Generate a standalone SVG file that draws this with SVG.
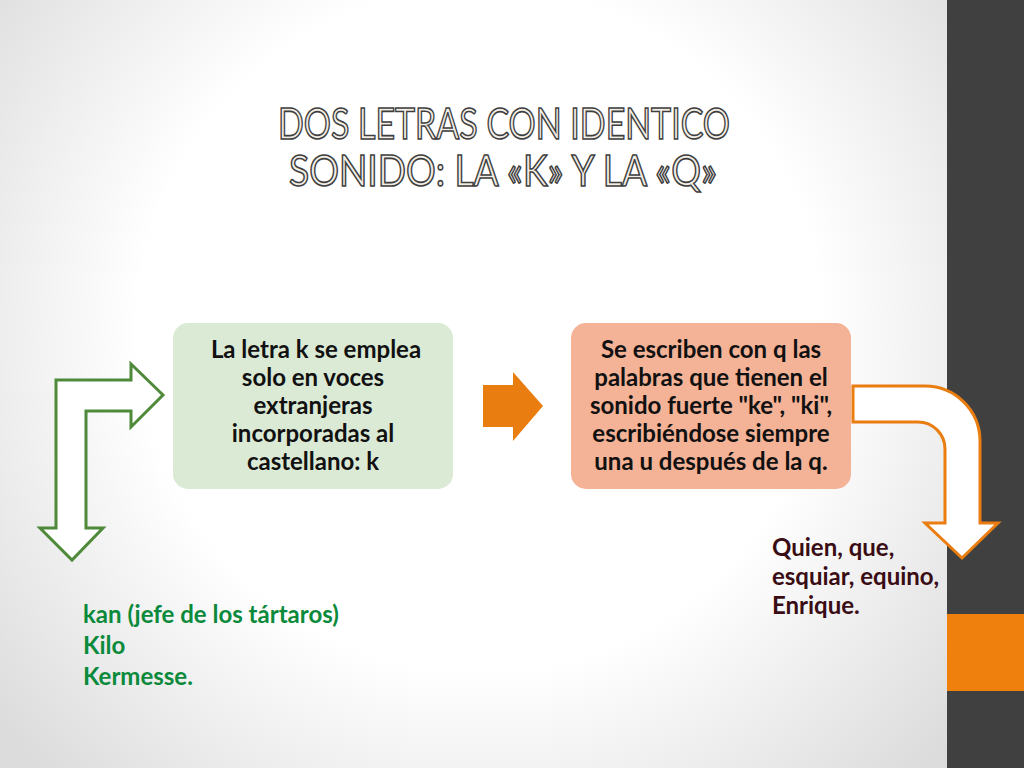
<svg xmlns="http://www.w3.org/2000/svg" width="1024" height="768" viewBox="0 0 1024 768">
<defs>
<radialGradient id="bg" cx="480" cy="330" r="620" gradientUnits="userSpaceOnUse">
<stop offset="0" stop-color="#ffffff"/>
<stop offset="0.55" stop-color="#ffffff"/>
<stop offset="1" stop-color="#dcdcdc"/>
</radialGradient>
</defs>
<style>
.title{font-family:Lato,"Liberation Sans",sans-serif;font-size:42px;fill:#f2eee6;stroke:#3f3f3f;stroke-width:1.6px;text-anchor:middle}
.box{font-family:Lato,"Liberation Sans",sans-serif;font-size:24px;font-weight:bold;fill:#111111;text-anchor:middle}
.gtxt{font-family:Lato,"Liberation Sans",sans-serif;font-size:24px;font-weight:bold;fill:#0b8a3c}
.rtxt{font-family:Lato,"Liberation Sans",sans-serif;font-size:24px;font-weight:bold;fill:#3a0d14}
</style>
<rect x="0" y="0" width="1024" height="768" fill="url(#bg)"/>
<rect x="947" y="0" width="77" height="768" fill="#404040"/>
<rect x="947" y="614" width="77" height="77" fill="#ef800d"/>

<g id="title">
<text class="title" x="504" y="139" textLength="452" lengthAdjust="spacingAndGlyphs">DOS LETRAS CON IDENTICO</text>
<text class="title" x="503" y="186" textLength="428" lengthAdjust="spacingAndGlyphs">SONIDO: LA «K» Y LA «Q»</text>
</g>

<g id="connectors">
<path d="M56,528 L56,380 L131,380 L131,364 L163,395 L131,427 L131,411 L86,411 L86,528 L103,528 L72,560 L40,528 Z" fill="#ffffff" stroke="#4f8a3a" stroke-width="3" stroke-linejoin="miter"/>
<path d="M483,385 L513,385 L513,372 L543,406 L513,441 L513,427 L483,427 Z" fill="#ea7d10"/>
<path d="M853,386 L925,386 A55,55 0 0 1 980,441 L980,523 L998,523 L962,558 L925,523 L945,523 L945,449 A27,27 0 0 0 918,422 L853,422 Z" fill="#ffffff" stroke="#ea7d10" stroke-width="3" stroke-linejoin="miter"/>
</g>

<g id="node-k">
<rect x="173" y="323" width="280" height="166" rx="15" fill="#dbead5"/>
<text class="box" x="316" y="358">La letra k se emplea</text>
<text class="box" x="313" y="386">solo en voces</text>
<text class="box" x="313" y="414">extranjeras</text>
<text class="box" x="313" y="442">incorporadas al</text>
<text class="box" x="313" y="470">castellano: k</text>
</g>

<g id="node-q">
<rect x="571" y="323" width="280" height="166" rx="15" fill="#f4b296"/>
<text class="box" x="711" y="358">Se escriben con q las</text>
<text class="box" x="711" y="386">palabras que tienen el</text>
<text class="box" x="711" y="414">sonido fuerte "ke", "ki",</text>
<text class="box" x="711" y="442">escribiéndose siempre</text>
<text class="box" x="711" y="470">una u después de la q.</text>
</g>

<g id="examples-k">
<text class="gtxt" x="83" y="623">kan (jefe de los tártaros)</text>
<text class="gtxt" x="83" y="654">Kilo</text>
<text class="gtxt" x="83" y="685">Kermesse.</text>
</g>

<g id="examples-q">
<text class="rtxt" x="772" y="556">Quien, que,</text>
<text class="rtxt" x="772" y="585">esquiar, equino,</text>
<text class="rtxt" x="772" y="614">Enrique.</text>
</g>
</svg>
